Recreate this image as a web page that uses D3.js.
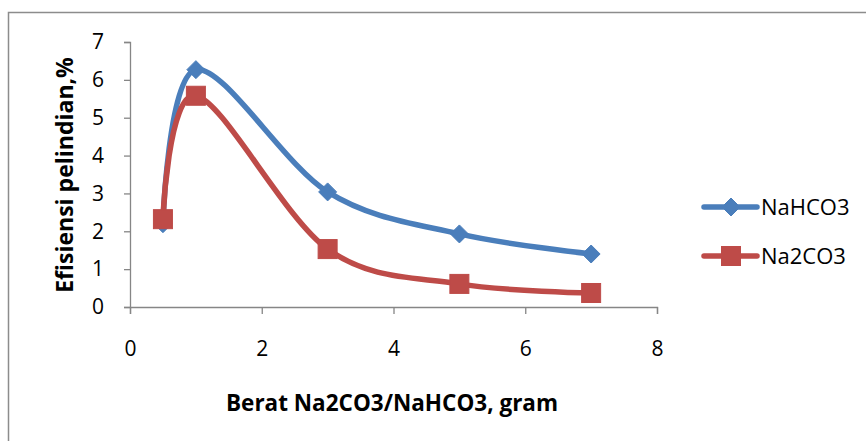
<!DOCTYPE html>
<html><head><meta charset="utf-8">
<script src="https://cdn.jsdelivr.net/npm/d3@7"></script>
<style>body{margin:0;background:#fff}svg{display:block}</style>
</head><body>
<script>
const xValues = [0.5, 1, 3, 5, 7];
const nahco3 = [2.2, 6.27, 3.04, 1.93, 1.4];
const na2co3 = [2.32, 5.58, 1.53, 0.61, 0.37];
const seriesNames = ["NaHCO3", "Na2CO3"];
const xTicks = [0, 2, 4, 6, 8];
const yTicks = [0, 1, 2, 3, 4, 5, 6, 7];
const xTitle = "Berat Na2CO3/NaHCO3, gram";
const yTitle = "Efisiensi pelindian,%";

const W = 866, H = 441;
const font = "'Open Sans', sans-serif";
const svg = d3.select("body").append("svg").attr("width", W).attr("height", H);
svg.append("rect").attr("x", 8.5).attr("y", 12.5).attr("width", W).attr("height", H)
  .attr("fill", "#fff").attr("stroke", "#8c8c8c").attr("stroke-width", 1.5);

const x = d3.scaleLinear().domain([0, 8]).range([130, 657]);
const y = d3.scaleLinear().domain([0, 7]).range([307, 42]);

const gx = svg.append("g").attr("transform", `translate(0,${y(0)})`)
  .call(d3.axisBottom(x).tickValues(xTicks).tickFormat(d3.format("d")).tickSize(7).tickPadding(27));
const gy = svg.append("g").attr("transform", `translate(${x(0)},0)`)
  .call(d3.axisLeft(y).tickValues(yTicks).tickFormat(d3.format("d")).tickSize(6).tickPadding(20));
[gx, gy].forEach(g => {
  g.select(".domain").attr("stroke", "#868686").attr("stroke-width", 1.3);
  g.selectAll(".tick line").attr("stroke", "#868686").attr("stroke-width", 1.3);
  g.selectAll(".tick text").attr("font-family", font).attr("font-size", 21).attr("fill", "#000");
});

const series = [
  {name: seriesNames[0], vals: nahco3, color: "#4a7ebb", marker: "diamond"},
  {name: seriesNames[1], vals: na2co3, color: "#be4b48", marker: "square"}
];
const line = d3.line().x(d => x(d[0])).y(d => y(d[1])).curve(d3.curveCardinal.tension(0));

function drawMarker(g, cx, cy, s) {
  if (s.marker === "diamond") {
    g.append("path").attr("d", `M${cx},${cy-9}L${cx+9},${cy}L${cx},${cy+9}L${cx-9},${cy}Z`)
      .attr("fill", s.color).attr("stroke", s.color).attr("stroke-width", 1);
  } else {
    g.append("rect").attr("x", cx-9.5).attr("y", cy-9.5).attr("width", 19).attr("height", 19)
      .attr("fill", s.color).attr("stroke", s.color).attr("stroke-width", 1);
  }
}

series.forEach(s => {
  const pts = xValues.map((v, i) => [v, s.vals[i]]);
  svg.append("path").attr("d", line(pts)).attr("fill", "none")
    .attr("stroke", s.color).attr("stroke-width", 5.5).attr("stroke-linejoin", "round").attr("stroke-linecap", "round");
});
series.forEach(s => {
  const g = svg.append("g");
  xValues.forEach((v, i) => drawMarker(g, x(v), y(s.vals[i]), s));
});

// legend
series.forEach((s, i) => {
  const ly = 207 + i * 49;
  svg.append("line").attr("x1", 704).attr("x2", 757).attr("y1", ly).attr("y2", ly)
    .attr("stroke", s.color).attr("stroke-width", 5.5).attr("stroke-linecap", "round");
  drawMarker(svg, 731, ly, s);
  svg.append("text").attr("x", 761).attr("y", ly).attr("dy", "0.36em")
    .attr("font-family", font).attr("font-size", 22).text(s.name);
});

svg.append("text").attr("x", 392).attr("y", 411).attr("text-anchor", "middle")
  .attr("font-family", font).attr("font-weight", "bold").attr("font-size", 22.5).text(xTitle);
svg.append("text").attr("transform", "translate(73,175) rotate(-90)").attr("text-anchor", "middle")
  .attr("font-family", font).attr("font-weight", "bold").attr("font-size", 23).text(yTitle);
</script>
</body></html>
